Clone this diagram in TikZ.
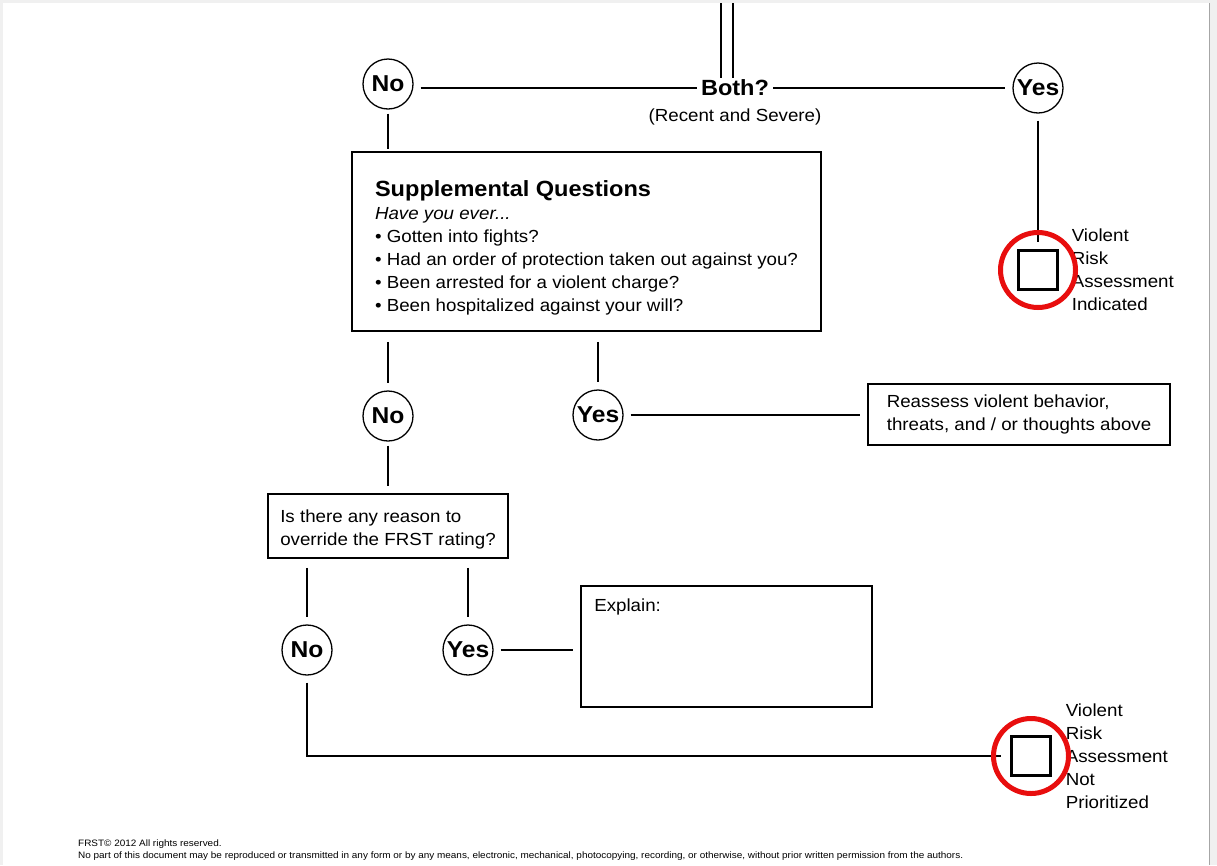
\documentclass[tikz,border=0pt]{standalone}
\usepackage{fontspec}
\setmainfont{Liberation Sans}[FakeStretch=1.07]
\usetikzlibrary{positioning}
\definecolor{pagegray}{gray}{0.94}
\definecolor{markred}{RGB}{232,14,14}
\begin{document}
\begin{tikzpicture}
[
  x=1pt, y=-1pt,
  ans/.style={circle,draw,line width=1.3pt,minimum size=50pt,inner sep=0pt,font=\bfseries\fontsize{23}{23}\selectfont},
  qbox/.style={draw,line width=1.8pt,align=left,inner sep=0pt},
  tickbox/.style={draw,line width=2.2pt,minimum size=39pt,inner sep=0pt},
  link/.style={line width=1.8pt,shorten <=7pt,shorten >=7pt},
  ring/.style={draw=markred,line width=5pt}
]
\tikzstyle{every node}=[font=\fontsize{17.5}{23}\selectfont]

% page
\fill[pagegray] (0,0) rectangle (1217,865);
\fill[white] (3,3) rectangle (1209,865);
\draw[gray!70,line width=1pt] (1209.5,3) -- (1209.5,865);
\useasboundingbox (0,0) rectangle (1217,865);

% both?
\node (both) at (735,88) [font=\bfseries\fontsize{22}{22}\selectfont,inner sep=2pt] {Both?};
\node (recsev) [below=7pt of both] {(Recent and Severe)};
\coordinate (feedL) at (721,3);
\coordinate (feedR) at (733,3);
\draw[line width=1.8pt] (feedL) -- (feedL |- both.north);
\draw[line width=1.8pt] (feedR) -- (feedR |- both.north);

\node[ans] (no1) at (388,84) {No};
\node[ans] (yes1) at (1038,88) {Yes};

% supplemental
\node[qbox,minimum width=469pt,minimum height=179pt] (supp) at (586.5,241.5)
  {\rule{0pt}{29pt}{\bfseries\fontsize{22}{26}\selectfont Supplemental Questions}\\[0pt]
   \textit{Have you ever...}\\
   • Gotten into fights?\\
   • Had an order of protection taken out against you?\\
   • Been arrested for a violent charge?\\
   • Been hospitalized against your will?};

\node[ans] (no2) at (388,416) {No};
\node[ans] (yes2) at (598,415) {Yes};
\node[qbox,minimum width=302pt,minimum height=61pt] (reass) at (1019,414.5)
  {Reassess violent behavior,\\threats, and / or thoughts above};

% override
\node[qbox,minimum width=240pt,minimum height=64pt] (ovr) at (388,526)
  {\rule{0pt}{20pt}Is there any reason to\\override the FRST rating?};
\node[ans] (no3) at (307,650) {No};
\node[ans] (yes3) at (468,650) {Yes};
\node[qbox,minimum width=291pt,minimum height=121pt] (expl) at (726.5,646.5) {};
\node[anchor=north west,inner sep=0pt] (expltxt) at ([xshift=14pt,yshift=-14pt]expl.north west) {Explain:};

% outcomes
\node[tickbox] (tick1) at (1038,270) {};
\node[anchor=west,align=left,inner sep=0pt] (lab1) at ([xshift=13pt]tick1.east)
  {Violent\\Risk\\Assessment\\Indicated};
\node[tickbox] (tick2) at (1031,756) {};
\node[anchor=west,align=left,inner sep=0pt] (lab2) at ([xshift=14pt]tick2.east)
  {Violent\\Risk\\Assessment\\Not\\Prioritized};

% connectors
\draw[link,shorten >=2pt] (no1.east |- both.west) -- (both.west);
\draw[link,shorten <=2pt] (both.east) -- (yes1.west |- both.east);
\draw[link,shorten <=4pt,shorten >=2pt] (no1.south) -- (no1.south |- supp.north);
\draw[link] (yes1.south) -- (tick1.north);
\draw[link,shorten <=10pt] (supp.south -| no2) -- (no2.north);
\draw[link,shorten <=10pt] (supp.south -| yes2) -- (yes2.north);
\draw[link] (yes2.east) -- (reass.west |- yes2);
\draw[link,shorten <=4pt] (no2.south) -- (ovr.north -| no2);
\draw[link,shorten <=9pt] (ovr.south -| no3) -- (no3.north);
\draw[link,shorten <=9pt] (ovr.south -| yes3) -- (yes3.north);
\draw[link] (yes3.east) -- (expl.west |- yes3);
\draw[link,shorten >=9pt] (no3.south) |- (tick2.west);

% red marks
\draw[ring] (tick1.center) circle (37.5pt);
\draw[ring] (tick2.center) circle (37.5pt);

% footer
\node[anchor=north west,align=left,inner sep=0pt,font=\fontsize{9.3}{12}\selectfont] (note) at (78,840)
  {FRST© 2012 All rights reserved.\\No part of this document may be reproduced or transmitted in any form or by any means, electronic, mechanical, photocopying, recording, or otherwise, without prior written permission from the authors.};
\end{tikzpicture}
\end{document}
